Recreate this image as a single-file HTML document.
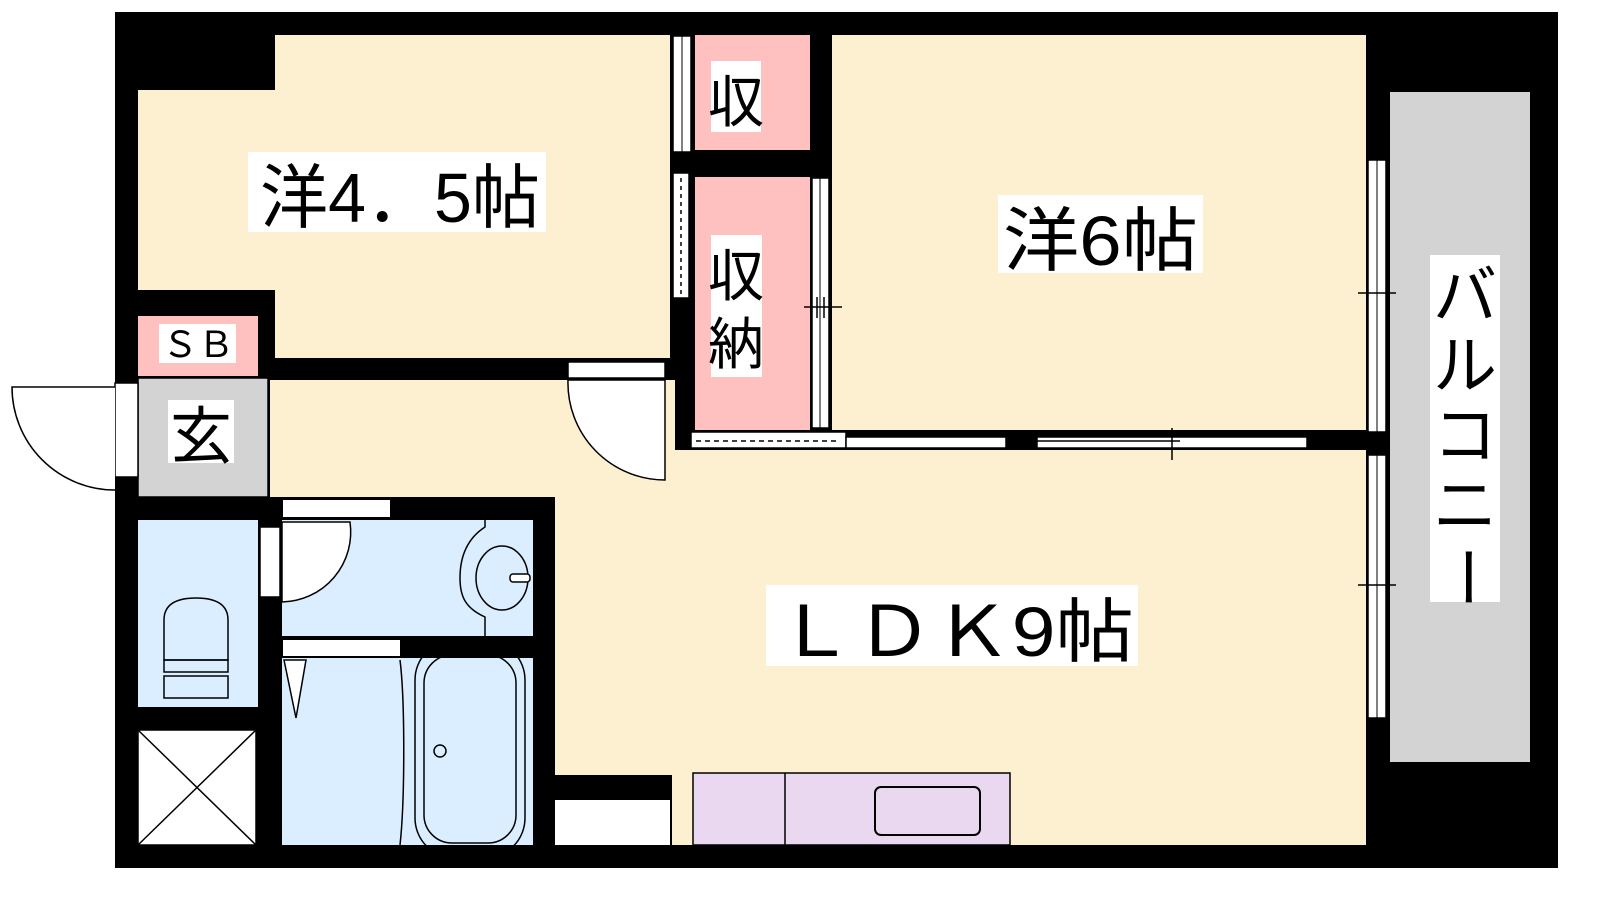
<!DOCTYPE html>
<html><head><meta charset="utf-8"><style>
html,body{margin:0;padding:0;background:#fff;width:1600px;height:900px;overflow:hidden}
text{font-family:"Liberation Sans","Noto Sans CJK JP",sans-serif;fill:#000}
</style></head><body>
<svg width="1600" height="900" viewBox="0 0 1600 900" xmlns="http://www.w3.org/2000/svg">
<rect x="115" y="12" width="1443" height="856" fill="#000"/>
<rect x="138" y="90" width="532" height="200" fill="#fdf0d0"/>
<rect x="275" y="35" width="395" height="323" fill="#fdf0d0"/>
<rect x="832" y="35" width="534" height="395" fill="#fdf0d0"/>
<rect x="270" y="380" width="402" height="117" fill="#fdf0d0"/>
<rect x="672" y="450" width="694" height="395" fill="#fdf0d0"/>
<rect x="555" y="450" width="140" height="325" fill="#fdf0d0"/>
<rect x="555" y="380" width="120" height="120" fill="#fdf0d0"/>
<rect x="695" y="35" width="115" height="115" fill="#ffc0c0"/>
<rect x="695" y="177" width="115" height="253" fill="#ffc0c0"/>
<rect x="138" y="316" width="120" height="60" fill="#ffc0c0"/>
<rect x="138" y="378" width="130" height="119" fill="#d3d3d3" stroke="#000" stroke-width="1.5"/>
<rect x="1390" y="92" width="140" height="670" fill="#d3d3d3"/>
<rect x="138" y="520" width="120" height="187" fill="#dbeeff"/>
<rect x="282" y="520" width="251" height="116" fill="#dbeeff"/>
<rect x="282" y="658" width="251" height="187" fill="#dbeeff"/>
<rect x="138" y="730" width="118" height="115" fill="#fff" stroke="#000" stroke-width="1.5"/>
<line x1="138" y1="730" x2="256" y2="845" stroke="#000" stroke-width="1.5"/>
<line x1="256" y1="730" x2="138" y2="845" stroke="#000" stroke-width="1.5"/>
<rect x="693" y="773" width="317" height="72" fill="#ead8f0" stroke="#000" stroke-width="1.5"/>
<line x1="785" y1="773" x2="785" y2="845" stroke="#000" stroke-width="1.5"/>
<rect x="875" y="787" width="105" height="48" rx="6" fill="none" stroke="#000" stroke-width="2"/>
<rect x="555" y="800" width="115" height="45" fill="#fff"/>
<rect x="115" y="383" width="23" height="94" fill="#fff" stroke="#000" stroke-width="1.5"/>
<path d="M115 490 A103 103 0 0 1 12 387 L115 387" fill="#fff" stroke="#000" stroke-width="1.5"/>
<rect x="568" y="362" width="97" height="16" fill="#fff" stroke="#000" stroke-width="1.5"/>
<path d="M665 380 L665 480 A97 97 0 0 1 568 380 Z" fill="#fff" stroke="#000" stroke-width="1.5"/>
<rect x="673" y="36" width="18" height="116" fill="#fff" stroke="#000" stroke-width="1.5"/>
<line x1="682" y1="36" x2="682" y2="152" stroke="#000" stroke-width="1"/>
<rect x="673" y="173" width="16" height="125" fill="#fff" stroke="#000" stroke-width="1.5"/>
<line x1="681" y1="178" x2="681" y2="295" stroke="#000" stroke-width="1.5" stroke-dasharray="4 4"/>
<rect x="812" y="178" width="17" height="250" fill="#fff" stroke="#000" stroke-width="1.5"/>
<line x1="820" y1="178" x2="820" y2="428" stroke="#000" stroke-width="1"/>
<line x1="804" y1="307" x2="842" y2="307" stroke="#000" stroke-width="1.5"/>
<line x1="817" y1="297" x2="817" y2="318" stroke="#000" stroke-width="1.5"/>
<line x1="824" y1="297" x2="824" y2="318" stroke="#000" stroke-width="1.5"/>
<rect x="691" y="432" width="155" height="16" fill="#fff" stroke="#000" stroke-width="1.5"/>
<line x1="696" y1="441" x2="840" y2="441" stroke="#000" stroke-width="1.5" stroke-dasharray="5 4"/>
<rect x="846" y="437" width="160" height="11" fill="#fff" stroke="#000" stroke-width="1.5"/>
<rect x="1037" y="437" width="270" height="11" fill="#fff" stroke="#000" stroke-width="1.5"/>
<line x1="1037" y1="441" x2="1180" y2="441" stroke="#000" stroke-width="1.5"/>
<line x1="1172" y1="428" x2="1172" y2="460" stroke="#000" stroke-width="1.5"/>
<rect x="1368" y="160" width="18" height="272" fill="#fff" stroke="#000" stroke-width="1.5"/>
<line x1="1377" y1="160" x2="1377" y2="432" stroke="#000" stroke-width="1"/>
<rect x="1368" y="455" width="18" height="263" fill="#fff" stroke="#000" stroke-width="1.5"/>
<line x1="1377" y1="455" x2="1377" y2="718" stroke="#000" stroke-width="1"/>
<line x1="1358" y1="293" x2="1396" y2="293" stroke="#000" stroke-width="1.5"/>
<line x1="1358" y1="585" x2="1396" y2="585" stroke="#000" stroke-width="1.5"/>
<rect x="283" y="500" width="107" height="17" fill="#fff"/>
<rect x="283" y="640" width="117" height="16" fill="#fff"/>
<rect x="260" y="527" width="20" height="70" fill="#fff" stroke="#000" stroke-width="1.5"/>
<path d="M282 522 L350 522 A70 70 0 0 1 282 602 Z" fill="#fff" stroke="#000" stroke-width="1.5"/>
<path d="M284 660 L306 660 L296 718 Z" fill="#fff" stroke="#000" stroke-width="1.5"/>
<path d="M485 520 L485 527 C465 540 460 560 460 578 C460 596 465 608 485 617 L485 636" fill="none" stroke="#000" stroke-width="1.5"/>
<ellipse cx="502" cy="578" rx="26" ry="32" fill="none" stroke="#000" stroke-width="1.5"/>
<rect x="510" y="574" width="20" height="8" rx="3" fill="#fff" stroke="#000" stroke-width="1.5"/>
<path d="M164 660 L164 620 Q164 598 196 598 L196 598 Q228 598 228 620 L228 660 Z" fill="none" stroke="#000" stroke-width="1.5"/>
<rect x="164" y="660" width="64" height="12" fill="none" stroke="#000" stroke-width="1.5"/>
<rect x="164" y="676" width="64" height="22" fill="none" stroke="#000" stroke-width="1.5"/>
<path d="M400 660 C405 700 405 800 400 845" fill="none" stroke="#000" stroke-width="1.5"/>
<rect x="415" y="640" width="110" height="218" rx="40" fill="none" stroke="#000" stroke-width="1.5"/>
<rect x="424" y="655" width="92" height="188" rx="28" fill="none" stroke="#000" stroke-width="1.5"/>
<circle cx="440" cy="751" r="6" fill="none" stroke="#000" stroke-width="1.5"/>
<rect x="248" y="152" width="298" height="80" fill="#fff"/>
<text x="260" y="222" font-size="70" textLength="280" lengthAdjust="spacingAndGlyphs">洋4．5帖</text>
<rect x="998" y="195" width="205" height="78" fill="#fff"/>
<text x="1003" y="265" font-size="70" textLength="195" lengthAdjust="spacingAndGlyphs">洋6帖</text>
<rect x="766" y="585" width="372" height="81" fill="#fff"/>
<text x="776" y="656" font-size="70" textLength="358" lengthAdjust="spacingAndGlyphs">ＬＤＫ9帖</text>
<rect x="711" y="61" width="50" height="71" fill="#fff"/>
<text x="736" y="122" font-size="56" text-anchor="middle">収</text>
<rect x="711" y="235" width="51" height="142" fill="#fff"/>
<text x="736" y="296" font-size="56" text-anchor="middle">収</text>
<text x="736" y="364" font-size="56" text-anchor="middle">納</text>
<rect x="159" y="324" width="77" height="39" fill="#fff"/>
<text x="162" y="357" font-size="36" textLength="72" lengthAdjust="spacingAndGlyphs">ＳＢ</text>
<rect x="168" y="400" width="66" height="63" fill="#fff"/>
<text x="201" y="458" font-size="62" text-anchor="middle">玄</text>
<rect x="1430" y="255" width="70" height="347" fill="#fff"/>
<text x="1465" y="318" font-size="64" text-anchor="middle">バ</text>
<text x="1465" y="388" font-size="64" text-anchor="middle">ル</text>
<text x="1465" y="458" font-size="64" text-anchor="middle">コ</text>
<text x="1465" y="528" font-size="64" text-anchor="middle">ニ</text>
<text x="1465" y="598" font-size="64" text-anchor="middle" transform="rotate(90 1465 577)">ー</text>
</svg>
</body></html>
